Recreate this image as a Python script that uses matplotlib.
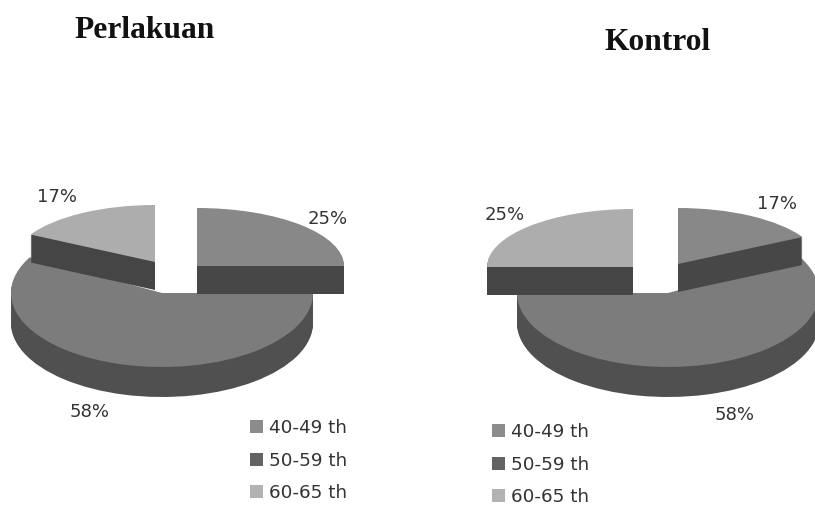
import matplotlib
matplotlib.use("Agg")
import matplotlib.pyplot as plt
from matplotlib.legend import Legend
from matplotlib.patches import Patch, Wedge
from matplotlib.transforms import Affine2D

age_groups = ["40-49 th", "50-59 th", "60-65 th"]
perlakuan_pct = [25, 58, 17]
kontrol_pct = [17, 58, 25]

top_colors = ["#888888", "#7c7c7c", "#adadad"]
side_colors = ["#474747", "#505050", "#454545"]
legend_colors = ["#8c8c8c", "#636363", "#b2b2b2"]

# centre x, centre y, radius x, radius y, thickness for each slice (in pixels)
perlakuan_geom = [(197, 266, 147, 58, 28), (162, 293, 151, 74, 30), (155, 262, 142, 57, 28)]
kontrol_geom = [(678, 264, 142, 56, 28), (668, 293, 151, 74, 30), (633, 267, 146, 58, 28)]


def draw_pie(ax, values, geom):
    # work out the angles clockwise from 12 o'clock
    total = sum(values)
    angles = []
    start = 90.0
    for v in values:
        end = start - 360.0 * v / total
        angles.append((end, start))
        start = end

    # big slice goes first so the pulled-out ones sit on top of it
    for i in [1, 0, 2]:
        cx, cy, rx, ry, depth = geom[i]
        t1, t2 = angles[i]
        for dy in range(depth, 0, -1):
            tr = Affine2D().scale(rx, -ry).translate(cx, cy + dy) + ax.transData
            ax.add_patch(Wedge((0, 0), 1, t1, t2, transform=tr, fc=side_colors[i], ec="none"))
        tr = Affine2D().scale(rx, -ry).translate(cx, cy) + ax.transData
        ax.add_patch(Wedge((0, 0), 1, t1, t2, transform=tr, fc=top_colors[i], ec="none"))


def add_legend(ax, x, y):
    handles = [Patch(fc=c, ec="none") for c in legend_colors]
    leg = Legend(ax, handles, age_groups, loc="upper left", bbox_to_anchor=(x, y),
                 bbox_transform=ax.transData, frameon=False, fontsize=13.2,
                 handlelength=0.71, handleheight=0.71, handletextpad=0.35,
                 labelspacing=0.8, borderpad=0, borderaxespad=0, labelcolor="#333333")
    ax.add_artist(leg)


fig = plt.figure(figsize=(8.15, 5.08), dpi=100)
ax = fig.add_axes([0, 0, 1, 1])
ax.set_xlim(0, 815)
ax.set_ylim(508, 0)
ax.axis("off")

draw_pie(ax, perlakuan_pct, perlakuan_geom)
draw_pie(ax, kontrol_pct, kontrol_geom)

serif = "Liberation Serif"
ax.text(145, 31, "Perlakuan", family=serif, weight="bold", fontsize=22.7, ha="center", va="center", color="#111111")
ax.text(658, 42, "Kontrol", family=serif, weight="bold", fontsize=22.7, ha="center", va="center", color="#111111")

pct_style = dict(fontsize=13, ha="center", va="center", color="#333333")
ax.text(57, 197, f"{perlakuan_pct[2]}%", **pct_style)
ax.text(328, 219, f"{perlakuan_pct[0]}%", **pct_style)
ax.text(90, 412, f"{perlakuan_pct[1]}%", **pct_style)
ax.text(505, 215, f"{kontrol_pct[2]}%", **pct_style)
ax.text(777, 204, f"{kontrol_pct[0]}%", **pct_style)
ax.text(735, 415, f"{kontrol_pct[1]}%", **pct_style)

add_legend(ax, 250, 419)
add_legend(ax, 492, 423)

fig.savefig("out.png", dpi=100, facecolor="white")
